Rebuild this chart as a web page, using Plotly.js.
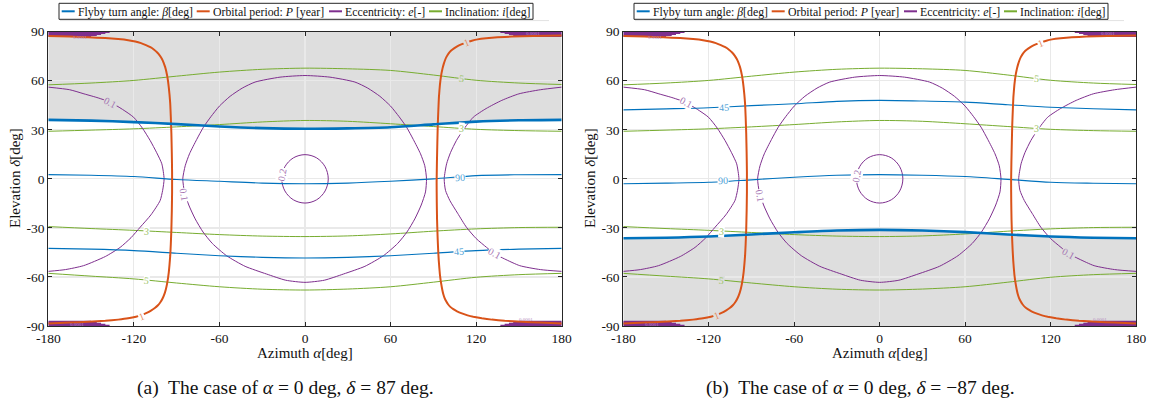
<!DOCTYPE html>
<html>
<head>
<meta charset="utf-8">
<script src="https://cdn.plot.ly/plotly-3.0.1.min.js"></script>
<style>
  html, body { margin: 0; padding: 0; background: #fff; }
  #chart { width: 1151px; height: 406px; }
</style>
</head>
<body>
<div id="chart"></div>
<script>
// ---------------- ticks ----------------
const azTickVals = [-180, -120, -60, 0, 60, 120, 180];
const azTickText = ['-180', '-120', '-60', '0', '60', '120', '180'];
const elTickVals = [-90, -60, -30, 0, 30, 60, 90];
const elTickText = ['-90', '-60', '-30', '0', '30', '60', '90'];

// azimuth samples used by the nearly horizontal contours
const azSamples = [-180, -150, -120, -90, -60, -30, 0, 30, 60, 90, 120, 150, 180];

// ---------------- flyby turn angle beta [deg] ----------------
// limit contour (bounds the shaded, unreachable region)
const betaLimitA = [36.1, 35.6, 34.7, 33.5, 32.0, 31.0, 30.6, 30.9, 31.6, 33.3, 35.0, 35.8, 36.1];
const betaLimitB = [-36.3, -36.0, -35.3, -34.0, -32.7, -31.6, -31.2, -31.6, -32.6, -34.0, -35.3, -36.0, -36.3];
// beta = 90 deg
const beta90A = [2.6, 2.2, 1.4, -0.4, -1.5, -2.6, -3.0, -2.6, -1.5, 0.0, 2.0, 2.5, 2.6];
const beta90B = [-3.0, -2.6, -2.1, -0.6, 1.0, 2.2, 2.6, 2.2, 1.4, -0.3, -2.1, -2.7, -3.0];
// beta = 45 deg
const beta45A = [-42.5, -43.0, -43.9, -45.5, -47.0, -48.0, -48.4, -48.0, -47.0, -45.5, -43.9, -43.0, -42.5];
const beta45B = [42.2, 42.8, 43.5, 44.8, 45.9, 47.4, 48.0, 47.6, 46.9, 45.3, 43.8, 42.9, 42.2];

// ---------------- inclination i [deg] ----------------
const incl5Upper = [57.5, 58.6, 60.2, 62.8, 65.3, 67.0, 67.7, 67.3, 66.3, 63.5, 60.3, 58.6, 57.7];
const incl3Upper = [29.1, 29.8, 30.6, 31.8, 33.2, 34.8, 35.7, 35.2, 33.7, 32.0, 30.3, 29.5, 29.1];
const incl3Lower = [-29.2, -30.4, -31.5, -32.8, -34.1, -35.0, -35.3, -34.9, -33.7, -32.0, -30.6, -29.8, -29.6];
const incl5Lower = [-57.8, -59.5, -61.2, -63.7, -66.0, -67.5, -68.0, -67.4, -66.0, -63.2, -60.2, -58.6, -57.8];

// ---------------- orbital period P = 1 year ----------------
const periodRightAz = [180, 160, 145, 135, 127, 121, 117, 113.5, 110, 107, 104.5, 102.3, 100.6, 99.2, 98.1, 97.2, 96.4, 95.7, 95.1, 94.6, 93.9, 93.5, 93.1, 92.8, 92.5, 92.3, 92.4, 92.6, 93.0, 93.4, 93.8, 94.2, 94.6, 95.1, 95.7, 96.3, 97.0, 97.9, 99.0, 100.3, 101.9, 104.0, 106.6, 110.0, 114.0, 118.0, 124.0, 131.0, 140.0, 152.0, 165.0, 180];
const periodRightEl = [87.7, 87.4, 87.0, 86.6, 86.0, 85.3, 84.5, 83.5, 82.4, 81.2, 79.8, 78.3, 76.6, 74.6, 72.4, 70.0, 67.4, 64.5, 61.2, 57.5, 50.0, 42.0, 33.0, 22.0, 10.0, -2.0, -14.0, -25.0, -36.0, -44.0, -50.0, -54.5, -58.5, -62.0, -65.2, -68.0, -70.6, -72.9, -74.9, -76.7, -78.3, -79.7, -81.0, -82.3, -83.5, -84.4, -85.3, -86.1, -86.8, -87.4, -87.9, -88.4];
const periodLeftAz = [-180, -165, -152, -140, -131, -124, -119, -115, -111.5, -108.4, -105.8, -103.6, -101.8, -100.3, -99.1, -98.1, -97.3, -96.6, -96.0, -95.5, -95.0, -94.5, -94.1, -93.7, -93.4, -93.2, -93.2, -93.4, -93.7, -94.1, -94.5, -95.0, -95.5, -96.1, -96.8, -97.6, -98.6, -99.8, -101.3, -103.1, -105.3, -108.0, -111.0, -114.4, -118.5, -124.0, -131.0, -140.0, -152.0, -165.0, -180];
const periodLeftEl = [87.3, 87.0, 86.6, 86.1, 85.5, 84.8, 84.0, 83.0, 81.8, 80.5, 79.0, 77.3, 75.4, 73.3, 71.0, 68.5, 65.8, 62.8, 59.5, 55.8, 51.5, 46.0, 38.0, 28.0, 16.0, 4.0, -8.0, -20.0, -31.0, -40.0, -47.0, -52.5, -57.0, -61.0, -64.5, -67.6, -70.5, -73.0, -75.3, -77.3, -79.0, -80.6, -82.0, -83.2, -84.3, -85.3, -86.1, -86.8, -87.4, -87.9, -88.4];

// ---------------- eccentricity e [-] ----------------
// e = 0.2 (small loop at the origin)
const ecc02Az = [0, 8.2, 14.1, 16.3, 14.1, 8.2, 0, -8.2, -14.1, -16.3, -14.1, -8.2, 0];
const ecc02El = [14.8, 12.8, 7.4, 0, -7.4, -12.8, -14.8, -12.8, -7.4, 0, 7.4, 12.8, 14.8];
// e = 0.1 central loop
const ecc01MidAz = [0, -17.5, -35, -44, -52.5, -60, -66, -71.2, -76, -81, -84, -85.7, -84.5, -81.5, -77, -71.5, -65, -55, -42, -27, -13.5, 0, 13.5, 27, 42, 55, 65, 71.5, 77, 81.5, 84.5, 85.2, 84, 81, 76, 71.2, 66, 60, 52.5, 44, 35, 17.5, 0];
const ecc01MidEl = [63.2, 62.2, 59.2, 55.5, 50.5, 44.5, 38, 31.6, 24, 15.3, 8, 0, -8, -16, -24.5, -32.5, -39.5, -47, -53.5, -58.2, -62, -63.3, -62, -58.2, -53.5, -47, -39.5, -32.5, -24.5, -16, -8, 0, 8, 15.3, 24, 31.6, 38, 44.5, 50.5, 55.5, 59.2, 62.2, 63.2];
// e = 0.1 side branches
const ecc01LeftAz = [-180, -165, -155, -145, -136.6, -128, -120.2, -114, -108.6, -104, -100.4, -98.8, -99.8, -101.6, -108, -115.6, -122, -129.6, -140, -155.3, -168, -180];
const ecc01LeftEl = [56.1, 54.5, 52, 49.5, 46.9, 42.5, 37.7, 31, 23.5, 16, 9.2, 0, -7, -13.3, -22, -29.6, -36, -41.9, -47.5, -53.1, -55.5, -56.6];
const ecc01RightAz = [180, 165, 150, 138, 127, 118, 111, 106.2, 102, 99.3, 97.6, 98.5, 101.6, 107, 113.2, 120, 127.3, 133.1, 140, 150.6, 165, 180];
const ecc01RightEl = [56.1, 54.5, 52, 48, 43, 37.7, 30, 23.5, 16, 9.2, 0, -7, -13.3, -21, -29.6, -36.5, -41.9, -45.9, -49, -53.1, -55.5, -56.6];
// densely packed small-e contours next to the poles
const eccPoleEl = [89.6, 89.0, 88.4, 87.8, 87.2];
const eccPoleEndAz = [137, 140, 143, 146, 150];

// ---------------- styling ----------------
const W = 1151, H = 406;
const SERIF = "'Liberation Serif', 'Times New Roman', 'DejaVu Serif', serif";
const C_BLUE = '#0072BD', C_ORANGE = '#D95319', C_PURPLE = '#7E2F8E', C_GREEN = '#77AC30';
const LBL = { blue: '#4f9fd6', orange: '#e58a5d', purple: '#a474b2', green: '#9cc469' };
const SHADE = '#dedede';

const px = v => v / W;          // pixel -> paper x
const py = v => 1 - v / H;      // pixel -> paper y

// contour labels: text, azimuth, elevation, rotation, colour key, sits on shaded area
const labelsA = [
  ['90', 108.6, 0.8, -3, 'blue', false],
  ['45', 108.0, -44.5, -4, 'blue', false],
  ['0.1', -136.6, 46.9, 28, 'purple', true],
  ['0.1', -84.8, -9.5, 80, 'purple', false],
  ['0.1', 133.1, -45.9, 29, 'purple', false],
  ['0.2', -15.8, 2.5, -80, 'purple', false],
  ['5', 109.7, 61.2, 6, 'green', true],
  ['3', 109.7, 31.0, 4, 'green', false],
  ['3', -110.9, -31.9, 4, 'green', false],
  ['5', -110.9, -62.0, 6, 'green', false],
  ['1', 113.5, 83.3, -22, 'orange', true],
  ['1', -114.4, -84.1, -22, 'orange', false]
];
const labelsB = [
  ['45', -109.5, 43.6, -3, 'blue', false],
  ['90', -109.8, -1.0, -3, 'blue', false],
  ['0.1', -135.5, 46.9, 28, 'purple', false],
  ['0.1', -84.0, -10.2, 80, 'purple', false],
  ['0.1', 132.5, -45.9, 29, 'purple', true],
  ['0.2', -16.0, 2.0, -80, 'purple', false],
  ['5', 110.3, 61.2, 6, 'green', false],
  ['3', 110.3, 31.0, 4, 'green', false],
  ['3', -110.9, -31.9, 4, 'green', false],
  ['5', -110.9, -62.0, 6, 'green', true],
  ['1', 112.6, 83.0, -22, 'orange', false],
  ['1', -114.4, -83.7, -22, 'orange', true]
];
// tiny labels inside the pole clusters
const poleLabelText = '0.0001';
const poleLabelPos = [[-158, 86.4], [160, 89.0], [155, -86.2], [-160, -89.0]];

const legendNames = [
  'Flyby turn angle: <i>β</i>[deg]',
  'Orbital period: <i>P</i> [year]',
  'Eccentricity: <i>e</i>[-]',
  'Inclination: <i>i</i>[deg]'
];
const legendColors = [C_BLUE, C_ORANGE, C_PURPLE, C_GREEN];
const legendLineX = [61.7, 196.7, 329.0, 429.0];

const captions = [
  '(a)  The case of <i>α</i> = 0 deg, <i>δ</i> = 87 deg.',
  '(b)  The case of <i>α</i> = 0 deg, <i>δ</i> = −87 deg.'
];

// ---------------- build ----------------
const traces = [];
const shapes = [];
const annotations = [];

function line(xs, ys, color, width, xa, ya, smooth) {
  traces.push({
    type: 'scatter', mode: 'lines', x: xs, y: ys,
    xaxis: xa, yaxis: ya, showlegend: false, hoverinfo: 'skip',
    line: smooth ? { color: color, width: width, shape: 'spline', smoothing: smooth }
                 : { color: color, width: width, shape: 'linear' }
  });
}

function panel(idx, betaLimit, beta90, beta45, shadeUp) {
  const xa = idx === 0 ? 'x' : 'x2';
  const ya = idx === 0 ? 'y' : 'y2';
  const shift = idx === 0 ? 0 : 575;

  // shaded region bounded by the beta limit contour
  const edge = shadeUp ? 90 : -90;
  let path = 'M' + azSamples.map((a, k) => a + ',' + betaLimit[k]).join(' L');
  path += ' L' + azSamples[azSamples.length - 1] + ',' + edge + ' L' + azSamples[0] + ',' + edge + ' Z';
  shapes.push({ type: 'path', xref: xa, yref: ya, path: path, fillcolor: SHADE, line: { width: 0 }, layer: 'below' });

  // inclination
  [incl5Upper, incl3Upper, incl3Lower, incl5Lower].forEach(v => line(azSamples, v, C_GREEN, 1, xa, ya, 0.8));
  // eccentricity
  line(ecc02Az, ecc02El, C_PURPLE, 1, xa, ya, 1);
  line(ecc01MidAz, ecc01MidEl, C_PURPLE, 1, xa, ya, 0.6);
  line(ecc01LeftAz, ecc01LeftEl, C_PURPLE, 1, xa, ya, 0.6);
  line(ecc01RightAz, ecc01RightEl, C_PURPLE, 1, xa, ya, 0.6);
  eccPoleEl.forEach((el, k) => {
    const e = eccPoleEndAz[k];
    line([-180, -e], [el, el], C_PURPLE, 1.3, xa, ya);
    line([e, 180], [el, el], C_PURPLE, 1.3, xa, ya);
    line([-180, -e], [-el, -el], C_PURPLE, 1.3, xa, ya);
    line([e, 180], [-el, -el], C_PURPLE, 1.3, xa, ya);
  });
  // flyby turn angle
  line(azSamples, beta90, C_BLUE, 1.1, xa, ya, 0.8);
  line(azSamples, beta45, C_BLUE, 1.1, xa, ya, 0.8);
  // orbital period
  line(periodRightAz, periodRightEl, C_ORANGE, 2, xa, ya, 0.3);
  line(periodLeftAz, periodLeftEl, C_ORANGE, 2, xa, ya, 0.3);
  // limit contour on top
  line(azSamples, betaLimit, C_BLUE, 2.6, xa, ya, 0.8);

  // contour labels
  (idx === 0 ? labelsA : labelsB).forEach(l => {
    annotations.push({
      xref: xa, yref: ya, x: l[1], y: l[2], text: l[0], textangle: l[3],
      showarrow: false, font: { family: SERIF, size: 10, color: LBL[l[4]] },
      bgcolor: l[5] ? SHADE : '#ffffff', borderpad: 0
    });
  });
  poleLabelPos.forEach(p => {
    annotations.push({
      xref: xa, yref: ya, x: p[0], y: p[1], text: poleLabelText, showarrow: false,
      font: { family: SERIF, size: 5, color: '#b58cc0' }
    });
  });

  // legend box
  shapes.push({ type: 'line', xref: 'paper', yref: 'paper', x0: px(60 + shift), x1: px(549 + shift), y0: py(20.6), y1: py(20.6), line: { color: '#e2e2e2', width: 1 } });
  shapes.push({ type: 'rect', xref: 'paper', yref: 'paper', x0: px(59 + shift), x1: px(533 + shift), y0: py(3.3), y1: py(19.3), fillcolor: '#ffffff', line: { color: '#262626', width: 1 } });
  legendNames.forEach((name, k) => {
    const lx = legendLineX[k] + shift;
    shapes.push({ type: 'line', xref: 'paper', yref: 'paper', x0: px(lx), x1: px(lx + 13), y0: py(11.3), y1: py(11.3), line: { color: legendColors[k], width: 2 } });
    annotations.push({
      xref: 'paper', yref: 'paper', x: px(lx + 14), y: py(11.5), xanchor: 'left', yanchor: 'middle',
      text: name, showarrow: false, font: { family: SERIF, size: 11.8, color: '#111' }
    });
  });

  // axis titles and caption
  annotations.push({
    xref: 'paper', yref: 'paper', x: px(305 + shift), y: py(353), xanchor: 'center', yanchor: 'middle',
    text: 'Azimuth <i>α</i>[deg]', showarrow: false, font: { family: SERIF, size: 15, color: '#111' }
  });
  annotations.push({
    xref: 'paper', yref: 'paper', x: px(15 + shift), y: py(178), xanchor: 'center', yanchor: 'middle',
    text: 'Elevation <i>δ</i>[deg]', textangle: -90, showarrow: false, font: { family: SERIF, size: 15, color: '#111' }
  });
  annotations.push({
    xref: 'paper', yref: 'paper', x: px(285.5 + shift), y: py(388), xanchor: 'center', yanchor: 'middle',
    text: captions[idx], showarrow: false, font: { family: SERIF, size: 19.5, color: '#111' }
  });
}

panel(0, betaLimitA, beta90A, beta45A, true);
panel(1, betaLimitB, beta90B, beta45B, false);

function xAxis(d0, d1, anchor) {
  return {
    domain: [px(d0), px(d1)], anchor: anchor, range: [-180, 180],
    tickmode: 'array', tickvals: azTickVals, ticktext: azTickText,
    ticks: 'inside', ticklen: 4, tickcolor: '#262626', tickwidth: 1,
    showline: true, linecolor: '#262626', linewidth: 1, mirror: 'ticks',
    showgrid: true, gridcolor: '#e9e9e9', gridwidth: 1.2, zeroline: false,
    tickfont: { family: SERIF, size: 13.5, color: '#111' }, fixedrange: true
  };
}
function yAxis(anchor) {
  return {
    domain: [py(326), py(31.7)], anchor: anchor, range: [-90, 90],
    tickmode: 'array', tickvals: elTickVals, ticktext: elTickText,
    ticks: 'inside', ticklen: 4, tickcolor: '#262626', tickwidth: 1,
    showline: true, linecolor: '#262626', linewidth: 1, mirror: 'ticks',
    showgrid: true, gridcolor: '#e9e9e9', gridwidth: 1.2, zeroline: false,
    tickfont: { family: SERIF, size: 13.5, color: '#111' }, fixedrange: true
  };
}

const layout = {
  width: W, height: H,
  margin: { l: 0, r: 0, t: 0, b: 0 },
  paper_bgcolor: '#ffffff', plot_bgcolor: '#ffffff',
  showlegend: false,
  xaxis: xAxis(48.3, 561.7, 'y'),
  yaxis: yAxis('x'),
  xaxis2: xAxis(623.3, 1136, 'y2'),
  yaxis2: yAxis('x2'),
  shapes: shapes,
  annotations: annotations,
  font: { family: SERIF }
};

Plotly.newPlot('chart', traces, layout, { staticPlot: true, displayModeBar: false });
</script>
</body>
</html>
